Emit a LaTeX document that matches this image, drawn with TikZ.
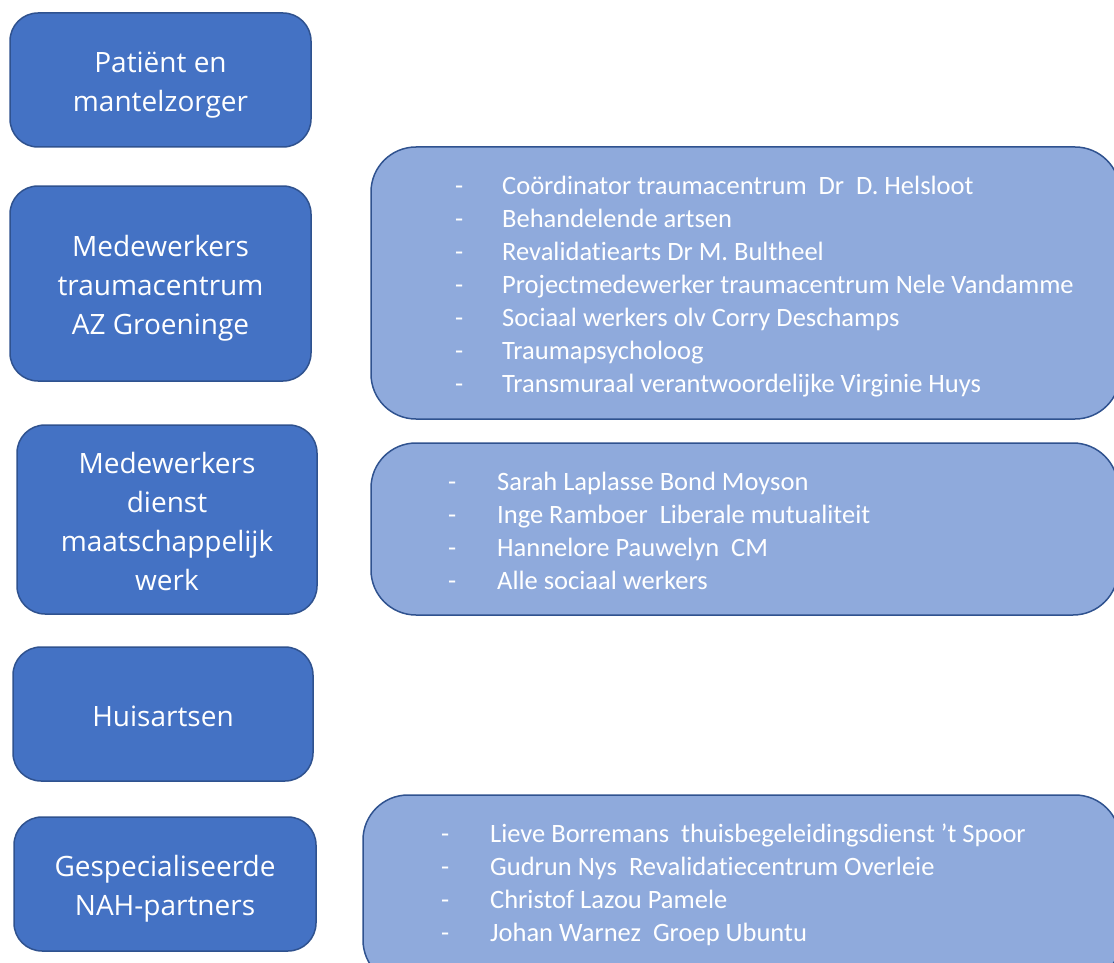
\documentclass[tikz,border=0pt]{standalone}
\usepackage{fontspec}
\setmainfont{Carlito}[Ligatures={NoCommon}]
\newfontfamily\boxfont{Open Sans}
\usetikzlibrary{positioning}
\definecolor{darkfill}{HTML}{4472C4}
\definecolor{lightfill}{HTML}{8FAADC}
\definecolor{edgeblue}{HTML}{2F528F}
% centred lines, sitting a little lower in the box
\newcommand\boxlines[1]{\raisebox{-4.5pt}[\height][\depth]{\begin{tabular}{@{}c@{}}#1\end{tabular}}}
\tikzset{
  groupbox/.style={draw=edgeblue, line width=1.5pt, fill=darkfill, rounded corners=28pt,
    text=white, inner sep=0pt,
    font=\boxfont\fontsize{28}{39}\selectfont},
  listbox/.style={draw=edgeblue, line width=1.5pt, fill=lightfill, rounded corners=45pt, inner sep=0pt},
  listtext/.style={text=white, anchor=west, inner sep=0pt, font=\fontsize{26.5}{33}\selectfont},
}

\begin{document}
\begin{tikzpicture}[x=1pt,y=-1pt]
            \path[use as bounding box, clip] (0,0) rectangle (1114,963);
            % left column
            \node[groupbox, minimum width=301pt, minimum height=134pt] at (160.5,80) (patient) {\boxlines{Patiënt en\\mantelzorger}};
            \node[groupbox, minimum width=301pt, minimum height=195pt] at (160.5,283.5) (trauma) {\boxlines{Medewerkers\\traumacentrum\\AZ Groeninge}};
            \node[groupbox, minimum width=300pt, minimum height=189pt] at (167,519.5) (social) {\boxlines{Medewerkers\\dienst\\maatschappelijk\\werk}};
            \node[groupbox, minimum width=300pt, minimum height=134pt] at (163,714) (gp) {\boxlines{Huisartsen}};
            \node[groupbox, minimum width=302pt, minimum height=134pt] at (165,884) (nah) {\boxlines{Gespecialiseerde\\NAH-partners}};
            % right column
            \node[listbox, minimum width=749pt, minimum height=272pt] at (745.5,283) (traumabox) {};
            \node[listbox, minimum width=747pt, minimum height=172pt] at (744.5,529) (socialbox) {};
            \node[listbox, minimum width=757pt, minimum height=190pt] at (741.5,890) (nahbox) {};
            \node[listtext] at (455,287) (traumalist) {\begin{tabular}{@{}p{47pt}@{}l@{}}
              - & Coördinator traumacentrum\ \ Dr\ \ D. Helsloot\\
              - & Behandelende artsen\\
              - & Revalidatiearts Dr M. Bultheel\\
              - & Projectmedewerker traumacentrum Nele Vandamme\\
              - & Sociaal werkers olv Corry Deschamps\\
              - & Traumapsycholoog\\
              - & Transmuraal verantwoordelijke Virginie Huys
            \end{tabular}};
            \node[listtext] at (448,533) (sociallist) {\begin{tabular}{@{}p{49pt}@{}l@{}}
              - & Sarah Laplasse Bond Moyson\\
              - & Inge Ramboer\ \ Liberale mutualiteit\\
              - & Hannelore Pauwelyn\ \ CM\\
              - & Alle sociaal werkers
            \end{tabular}};
            \node[listtext] at (441,885) (nahlist) {\begin{tabular}{@{}p{49pt}@{}l@{}}
              - & Lieve Borremans\ \ thuisbegeleidingsdienst ’t Spoor\\
              - & Gudrun Nys\ \ Revalidatiecentrum Overleie\\
              - & Christof Lazou Pamele\\
              - & Johan Warnez\ \ Groep Ubuntu
            \end{tabular}};
        \end{tikzpicture}
\end{document}
